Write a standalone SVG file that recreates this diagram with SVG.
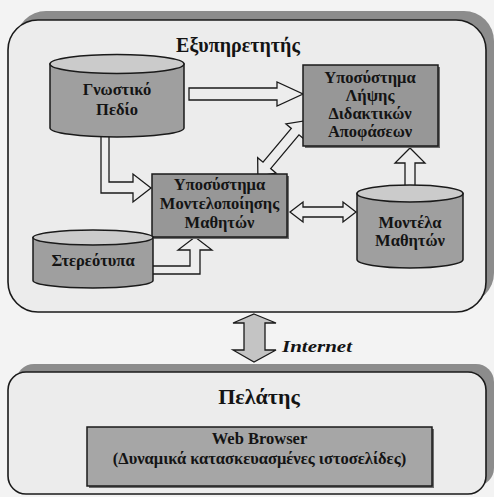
<svg xmlns="http://www.w3.org/2000/svg" width="494" height="497" viewBox="0 0 494 497" font-family="'Liberation Serif', 'DejaVu Serif', serif">
<style>
  .bg{fill:#f3f3f3}
  .cont{fill:#ececec;stroke:#1a1a1a;stroke-width:1.6}
  .band{fill:#8c8c8c}
  .box{fill:#979797;stroke:#1a1a1a;stroke-width:1.5}
  .bshadow{fill:#6e6e6e}
  .cylbody{fill:#9f9f9f;stroke:#1a1a1a;stroke-width:1.5}
  .cyltop{fill:#cbcbcb;stroke:#1a1a1a;stroke-width:1.5}
  .arrow{fill:#ededed;stroke:#1a1a1a;stroke-width:1.3;stroke-linejoin:miter}
  .inet{fill:#c4c4c4;stroke:#1a1a1a;stroke-width:1.3}
  .t{font-family:'Liberation Serif','DejaVu Serif',serif;font-weight:bold;fill:#141414;text-anchor:middle}
  .lbl{font-size:16.5px}
  .title{font-size:20px}
  .title2{font-size:22px}
  .it{font-style:italic;font-size:17px;text-anchor:start}
</style>
<rect class="bg" x="0" y="0" width="494" height="497"/>

<g id="server">
  <rect class="band" x="16" y="11" width="478" height="292" rx="30"/>
  <rect class="cont" x="8" y="20" width="478" height="292" rx="30"/>
  <text class="t title" x="238" y="52">Εξυπηρετητής</text>
</g>

<g id="client">
  <rect class="band" x="16" y="364" width="478" height="122" rx="18"/>
  <rect class="cont" x="8" y="372" width="478" height="122" rx="18"/>
  <text class="t title2" x="259" y="404">Πελάτης</text>
</g>

<g id="connectors">
  <polygon class="arrow" points="189,88 277,88 277,82 303,94 277,106 277,100 189,100"/>
  <polygon class="arrow" points="101,136 109,136 109,182 133,182 133,174 151,188 133,202 133,193 101,193"/>
  <polygon class="arrow" transform="translate(281,148.5) rotate(-50)" points="-36,0 -22,-12 -22,-5 22,-5 22,-12 36,0 22,12 22,5 -22,5 -22,12"/>
  <polygon class="arrow" points="290,212 303,202 303,207 343,207 343,202 356,212 343,222 343,217 303,217 303,222"/>
  <polygon class="arrow" points="405,188 405,163 395,163 410,148 425,163 415,163 415,188"/>
  <polygon class="arrow" points="150,266 190,266 190,250 178,250 195,237 212,250 200,250 200,274 150,274"/>
  <polygon class="inet" points="254,314 276,323 265,323 265,350 276,350 254,362 233,350 244,350 244,323 233,323"/>
  <text class="t it" x="282" y="352" textLength="70" lengthAdjust="spacingAndGlyphs">Internet</text>
</g>

<g id="gnostiko">
  <path class="cylbody" d="M50,64 V128 A67,9 0 0 0 184,128 V64 Z"/>
  <ellipse class="cyltop" cx="117" cy="64" rx="67" ry="9.5"/>
  <text class="t lbl" x="117" y="95">Γνωστικό</text>
  <text class="t lbl" x="117" y="115">Πεδίο</text>
</g>

<g id="lipsi">
  <rect class="bshadow" x="305" y="67" width="135" height="81"/>
  <rect class="box" x="303" y="65" width="135" height="81"/>
  <text class="t lbl" x="370" y="83">Υποσύστημα</text>
  <text class="t lbl" x="370" y="101">Λήψης</text>
  <text class="t lbl" x="370" y="119">Διδακτικών</text>
  <text class="t lbl" x="370" y="137">Αποφάσεων</text>
</g>

<g id="montelopoiisi">
  <rect class="bshadow" x="154" y="176" width="135" height="63"/>
  <rect class="box" x="152" y="174" width="135" height="63"/>
  <text class="t lbl" x="219.5" y="190">Υποσύστημα</text>
  <text class="t lbl" x="219.5" y="209">Μοντελοποίησης</text>
  <text class="t lbl" x="219.5" y="228">Μαθητών</text>
</g>

<g id="montela">
  <path class="cylbody" d="M357,193.5 V259.5 A53,8.5 0 0 0 463,259.5 V193.5 Z"/>
  <ellipse class="cyltop" cx="410" cy="193.5" rx="53" ry="8.5"/>
  <text class="t lbl" x="410" y="228">Μοντέλα</text>
  <text class="t lbl" x="410" y="246">Μαθητών</text>
</g>

<g id="stereotypa">
  <path class="cylbody" d="M33,237.5 V280.5 A60,7.5 0 0 0 153,280.5 V237.5 Z"/>
  <ellipse class="cyltop" cx="93" cy="237.5" rx="60" ry="7.5"/>
  <text class="t lbl" x="93" y="266">Στερεότυπα</text>
</g>

<g id="browser">
  <rect class="bshadow" x="89" y="429" width="345" height="59"/>
  <rect class="box" x="87" y="427" width="345" height="59" style="fill:#a6a6a6"/>
  <text class="t lbl" x="259.5" y="444">Web Browser</text>
  <text class="t lbl" x="259.5" y="464">(Δυναμικά κατασκευασμένες ιστοσελίδες)</text>
</g>
</svg>
